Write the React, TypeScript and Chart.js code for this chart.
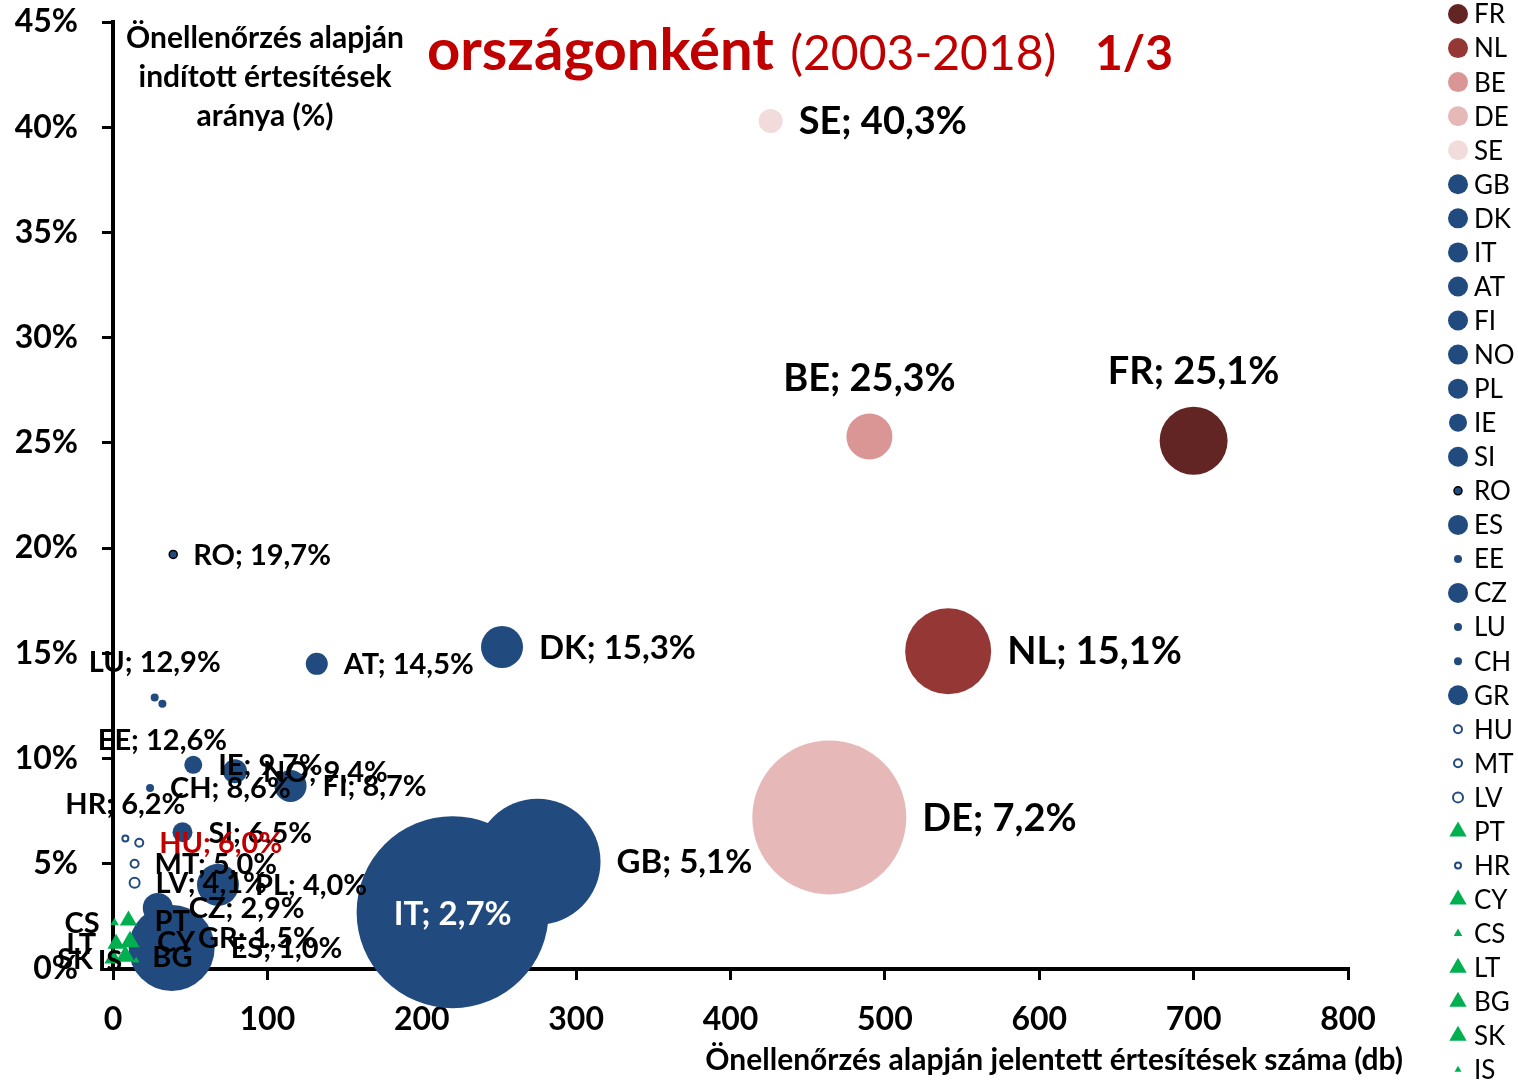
import React, { useEffect, useRef } from 'react';
import { Chart, registerables } from 'chart.js';

Chart.register(...registerables);

// ---- data (legend / drawing order) ----
const countries = ['FR', 'NL', 'BE', 'DE', 'SE', 'GB', 'DK', 'IT', 'AT', 'FI', 'NO', 'PL', 'IE', 'SI', 'RO', 'ES', 'EE', 'CZ', 'LU', 'CH', 'GR', 'HU', 'MT', 'LV', 'PT', 'HR', 'CY', 'CS', 'LT', 'BG', 'SK', 'IS'];
const notificationCounts = [700, 541, 490, 464, 426, 275, 252, 220, 132, 115, 79, 68, 52, 45, 39, 38, 32, 29, 27, 24, 35, 17, 14, 14, 10, 8, 11, 1, 2, 8, 0, 15];
const sharePercent = [25.1, 15.1, 25.3, 7.2, 40.3, 5.1, 15.3, 2.7, 14.5, 8.7, 9.4, 4.0, 9.7, 6.5, 19.7, 1.0, 12.6, 2.9, 12.9, 8.6, 1.5, 6.0, 5.0, 4.1, 2.3, 6.2, 1.3, 2.2, 1.2, 0.6, 0.5, 0.4];
const bubbleRadius = [34, 43, 23, 77, 12, 63, 21, 96, 11, 16, 12, 21, 9, 10, 4, 43, 4, 15, 4, 4, 15, 4, 4, 5, 10, 3, 11, 5, 10, 11, 10, 4];
const showValue = countries.map((c) => !['PT', 'CY', 'CS', 'LT', 'BG', 'SK', 'IS'].includes(c));

const xTickStep = 100;
const xMax = 800;
const yTickStep = 5;
const yMax = 45;

const titleMain = 'országonként';
const titleYears = ' (2003-2018)';
const titlePage = '1/3';
const yAxisTitle = ['Önellenőrzés alapján', 'indított értesítések', 'aránya (%)'];
const xAxisTitle = 'Önellenőrzés alapján jelentett értesítések száma (db)';

// ---- styles ----
const FONT = 'Lato, "Open Sans", sans-serif';
const RED = '#C00000';
const BLUE = '#214A7E';
const GREEN = '#00B050';
const countryColor: Record<string, string> = { FR: '#632523', NL: '#953735', BE: '#D99694', DE: '#E6B9B8', SE: '#F2DCDB' };
const openMarkers = ['HU', 'MT', 'LV', 'HR'];
const triangleMarkers = ['PT', 'CY', 'CS', 'LT', 'BG', 'SK', 'IS'];
const largeLabels = ['FR', 'NL', 'BE', 'DE', 'SE'];
const mediumLabels = ['GB', 'DK', 'IT'];
const labelSide: Record<string, string> = { FR: 't', BE: 't', LU: 't', HR: 't', EE: 'b', IT: 'c', CS: 'l', LT: 'l', SK: 'l', IS: 'l' };

const fillOf = (c: string) => (triangleMarkers.includes(c) ? GREEN : openMarkers.includes(c) ? '#FFFFFF' : countryColor[c] || BLUE);
const borderOf = (c: string) => (c === 'RO' ? '#000000' : openMarkers.includes(c) ? BLUE : 'rgba(0,0,0,0)');
const borderWOf = (c: string) => (c === 'RO' ? 1.5 : openMarkers.includes(c) ? 2 : 0);

const fmt = (v: number) => v.toFixed(1).replace('.', ',') + '%';

const overlayPlugin = {
  id: 'overlay',
  afterDatasetsDraw(chart: any) {
    const ctx = chart.ctx;
    const meta = chart.getDatasetMeta(0);
    ctx.save();
    meta.data.forEach((el: any, i: number) => {
      const c = countries[i];
      const x = el.x;
      const y = el.y;
      const r = el.options.radius;
      const size = largeLabels.includes(c) ? 38 : mediumLabels.includes(c) ? 33 : 29;
      ctx.font = `bold ${size}px ${FONT}`;
      ctx.fillStyle = c === 'HU' ? RED : c === 'IT' ? '#FFFFFF' : '#000000';
      const text = showValue[i] ? `${c}; ${fmt(sharePercent[i])}` : c;
      const side = labelSide[c] || 'r';
      ctx.textBaseline = 'middle';
      if (side === 'r') {
        ctx.textAlign = 'left';
        ctx.fillText(text, x + r + 16, y + 1);
      } else if (side === 'l') {
        ctx.textAlign = 'right';
        ctx.fillText(text, x - r - 10, y + 1);
      } else if (side === 't') {
        ctx.textAlign = 'center';
        ctx.fillText(text, x, y - r - size / 2 - 16);
      } else if (side === 'b') {
        ctx.textAlign = 'center';
        ctx.fillText(text, x, y + r + size / 2 + 18);
      } else {
        ctx.textAlign = 'center';
        ctx.fillText(text, x, y + 2);
      }
    });
    ctx.restore();
  },
  afterDraw(chart: any) {
    const ctx = chart.ctx;
    ctx.save();
    // title
    ctx.textBaseline = 'alphabetic';
    ctx.textAlign = 'left';
    ctx.fillStyle = RED;
    let tx = 427;
    const ty = 70;
    ctx.font = `bold 58px ${FONT}`;
    ctx.fillText(titleMain, tx, ty);
    tx += ctx.measureText(titleMain).width;
    ctx.font = `48px ${FONT}`;
    ctx.fillText(titleYears, tx + 4, ty);
    ctx.font = `bold 48px ${FONT}`;
    ctx.fillText(titlePage, 1095, ty);
    // y axis title
    ctx.fillStyle = '#000';
    ctx.textAlign = 'center';
    ctx.textBaseline = 'middle';
    ctx.font = `bold 30px ${FONT}`;
    yAxisTitle.forEach((line, i) => ctx.fillText(line, 265, 38 + i * 39));
    // x axis title
    ctx.textAlign = 'right';
    ctx.fillText(xAxisTitle, 1403, 1060);
    // legend
    ctx.font = `26px ${FONT}`;
    ctx.textAlign = 'left';
    countries.forEach((c, i) => {
      const ly = 14 + i * 34.06;
      const lx = 1458;
      const rr = Math.min(bubbleRadius[i], 10);
      ctx.beginPath();
      if (triangleMarkers.includes(c)) {
        const h = rr * 1.5;
        const w = rr * Math.sqrt(3);
        ctx.moveTo(lx, ly - rr);
        ctx.lineTo(lx + w / 2, ly - rr + h);
        ctx.lineTo(lx - w / 2, ly - rr + h);
        ctx.closePath();
      } else {
        ctx.arc(lx, ly, rr, 0, Math.PI * 2);
      }
      ctx.fillStyle = fillOf(c);
      ctx.fill();
      const bw = borderWOf(c);
      if (bw > 0) {
        ctx.lineWidth = bw;
        ctx.strokeStyle = borderOf(c);
        ctx.stroke();
      }
      ctx.fillStyle = '#000';
      ctx.fillText(c, 1474, ly + 1);
    });
    ctx.restore();
  },
};

export default function App() {
  const canvasRef = useRef<HTMLCanvasElement | null>(null);
  useEffect(() => {
    document.body.style.margin = '0';
    const canvas = canvasRef.current;
    if (!canvas) return;
    const chart = new Chart(canvas, {
      type: 'bubble',
      data: {
        datasets: [
          {
            data: countries.map((c, i) => ({ x: notificationCounts[i], y: sharePercent[i], r: bubbleRadius[i] })),
            backgroundColor: countries.map(fillOf),
            borderColor: countries.map(borderOf),
            borderWidth: countries.map(borderWOf),
            pointStyle: countries.map((c) => (triangleMarkers.includes(c) ? 'triangle' : 'circle')),
            clip: false,
          } as any,
        ],
      },
      options: {
        animation: false,
        responsive: false,
        devicePixelRatio: 1,
        events: [],
        layout: { autoPadding: false, padding: { top: 22, right: 170, left: 0, bottom: 0 } },
        plugins: { legend: { display: false }, tooltip: { enabled: false } },
        scales: {
          x: {
            type: 'linear',
            min: 0,
            max: xMax,
            afterFit: (s: any) => { s.height = 112; s.paddingLeft = 0; s.paddingRight = 0; },
            ticks: { stepSize: xTickStep, color: '#000', font: { family: FONT, size: 32, weight: 'bold' }, padding: 20 },
            grid: { drawOnChartArea: false, drawTicks: true, tickLength: 11, color: '#000', lineWidth: 3 },
            border: { display: true, color: '#000', width: 4 },
          },
          y: {
            type: 'linear',
            min: 0,
            max: yMax,
            afterFit: (s: any) => { s.width = 113; s.paddingTop = 0; s.paddingBottom = 0; },
            ticks: { stepSize: yTickStep, color: '#000', font: { family: FONT, size: 32, weight: 'bold' }, padding: 24, callback: (v: any) => v + '%' },
            grid: { drawOnChartArea: false, drawTicks: true, tickLength: 11, color: '#000', lineWidth: 3 },
            border: { display: true, color: '#000', width: 4 },
          },
        },
      } as any,
      plugins: [overlayPlugin],
    });
    return () => chart.destroy();
  }, []);
  return (
    <div style={{ position: 'fixed', left: 0, top: 0, width: 1518, height: 1081, background: '#fff' }}>
      <canvas ref={canvasRef} width={1518} height={1081} />
    </div>
  );
}
